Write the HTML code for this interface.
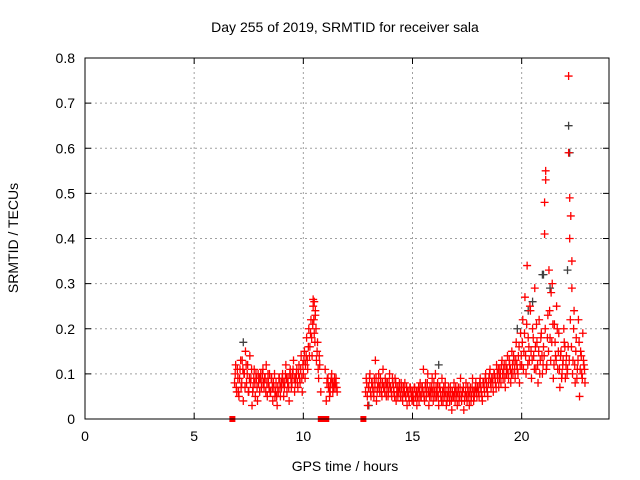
<!DOCTYPE html>
<html><head><meta charset="utf-8"><style>
html,body{margin:0;padding:0;background:#fff;}
svg{display:block;font-family:"Liberation Sans",sans-serif;}
</style></head><body>
<svg id="chart" width="640" height="480" viewBox="0 0 640 480">
<rect x="0" y="0" width="640" height="480" fill="#fff"/>
<text x="345" y="32" font-size="14" text-anchor="middle" fill="#000">Day 255 of 2019, SRMTID for receiver sala</text>
<text x="345" y="471" font-size="14" text-anchor="middle" fill="#000">GPS time / hours</text>
<text transform="translate(18,238) rotate(-90)" font-size="14" text-anchor="middle" fill="#000">SRMTID / TECUs</text>
<g id="grid"></g>
<g id="ticks"></g>
<g id="marks"></g>
<rect x="85" y="58" width="524" height="361" fill="none" stroke="#000" stroke-width="1"/>
</svg>
<script>
const xTicks = [0,5,10,15,20];
const yTicks = [0,0.1,0.2,0.3,0.4,0.5,0.6,0.7,0.8];
const yTickLabels = ["0","0.1","0.2","0.3","0.4","0.5","0.6","0.7","0.8"];
const times = [6.85,6.9,6.95,7.0,7.05,7.1,7.15,7.2,7.25,7.3,7.35,7.4,7.45,7.5,7.55,7.6,7.65,7.7,7.75,7.8,7.85,7.9,7.95,
8.0,8.05,8.1,8.15,8.2,8.25,8.3,8.35,8.4,8.45,8.5,8.55,8.6,8.65,8.7,8.75,8.8,8.85,8.9,8.95,
9.0,9.05,9.1,9.15,9.2,9.25,9.3,9.35,9.4,9.45,9.5,9.55,9.6,9.65,9.7,9.75,9.8,9.85,9.9,9.95,
10.0,10.05,10.1,10.15,10.2,10.25,10.3,10.35,10.4,10.45,10.5,10.55,10.6,10.65,10.7,10.75,10.8,10.5,10.45,10.55,
11.1,11.15,11.2,11.25,11.3,11.35,11.4,11.45,11.5,11.55,11.0,11.05,
12.85,12.9,12.95,13.0,13.05,13.1,13.15,13.2,13.25,13.3,13.35,13.4,13.45,13.5,13.55,13.6,13.65,13.7,13.75,13.8,13.85,13.9,13.95,14.0,14.05,14.1,14.15,14.2,14.25,14.3,14.35,14.4,14.45,14.5,14.55,14.6,14.65,14.7,14.75,14.8,14.85,14.9,14.95,
15.0,15.05,15.1,15.15,15.2,15.25,15.3,15.35,15.4,15.45,15.5,15.55,15.6,15.65,15.7,15.75,15.8,15.85,15.9,15.95,16.0,16.05,16.1,16.15,16.2,16.25,16.3,16.35,16.4,16.45,16.5,16.55,16.6,16.65,16.7,16.75,16.8,16.85,16.9,16.95,17.0,17.05,17.1,17.15,17.2,17.25,17.3,17.35,17.4,17.45,17.5,17.55,17.6,17.65,17.7,17.75,17.8,17.85,17.9,17.95,
18.0,18.05,18.1,18.15,18.2,18.25,18.3,18.35,18.4,18.45,18.5,18.55,18.6,18.65,18.7,18.75,18.8,18.85,18.9,18.95,19.0,19.05,19.1,19.15,19.2,19.25,19.3,19.35,19.4,19.45,19.5,19.55,19.6,19.65,19.7,19.75,19.8,19.85,19.9,19.95,
20.0,20.05,20.1,20.15,20.2,20.25,20.3,20.35,20.4,20.45,20.5,20.55,20.6,20.65,20.7,20.75,20.8,20.85,20.9,20.95,
21.0,21.05,21.05,21.1,21.1,21.15,21.2,21.25,21.3,21.35,21.4,21.45,21.5,21.55,21.6,21.65,21.7,21.75,21.8,21.85,21.9,21.95,
22.0,22.05,22.1,22.15,22.15,22.2,22.2,22.25,22.3,22.3,22.35,22.4,22.45,22.5,22.55,22.6,22.65,22.7,22.75,22.8,22.85,22.9];
const srmtid = [.08,.12,.06,.09,.05,.11,.07,.13,.04,.10,.15,.08,.12,.06,.14,.09,.03,.07,.11,.05,.09,.04,.08,
.06,.10,.08,.11,.07,.09,.12,.05,.08,.10,.06,.09,.04,.07,.05,.08,.03,.06,.09,.05,
.07,.10,.05,.08,.12,.06,.09,.04,.11,.07,.10,.13,.06,.09,.11,.07,.12,.08,.14,.06,
.10,.15,.12,.18,.11,.20,.16,.22,.14,.25,.19,.24,.13,.17,.09,.12,.06,.26,.265,.23,
.09,.07,.05,.08,.10,.06,.08,.07,.09,.06,.11,.04,
.06,.08,.03,.07,.10,.05,.08,.06,.09,.13,.04,.07,.10,.06,.08,.05,.11,.07,.09,.05,.08,.06,.10,.07,.05,.08,.06,.09,.04,.07,.06,.08,.05,.07,.04,.06,.08,.05,.03,.06,.04,.07,.05,
.06,.04,.07,.05,.03,.06,.04,.08,.05,.07,.11,.04,.08,.06,.10,.03,.07,.05,.09,.04,.06,.10,.05,.08,.03,.07,.05,.09,.04,.06,.08,.03,.05,.07,.04,.06,.02,.05,.08,.04,.06,.03,.07,.05,.09,.04,.06,.02,.05,.08,.04,.06,.03,.07,.05,.09,.04,.06,.08,.05,
.07,.05,.09,.06,.04,.08,.06,.10,.07,.05,.09,.11,.07,.09,.06,.10,.08,.12,.09,.07,.11,.08,.13,.09,.12,.07,.10,.14,.09,.12,.08,.15,.10,.13,.09,.17,.11,.14,.08,.19,
.12,.22,.15,.27,.10,.34,.18,.13,.24,.09,.20,.14,.29,.11,.17,.08,.22,.13,.19,.10,
.16,.41,.48,.53,.55,.12,.23,.33,.18,.28,.30,.09,.21,.14,.25,.11,.19,.07,.15,.10,.13,.17,
.09,.14,.11,.76,.59,.49,.40,.45,.35,.29,.13,.24,.08,.18,.11,.22,.05,.15,.10,.19,.12,.08];
const times2 = [6.88,6.93,6.98,7.03,7.08,7.13,7.18,7.23,7.28,7.33,7.38,7.43,7.48,7.53,7.58,7.63,7.68,7.73,7.78,7.83,7.88,7.93,7.98,
8.03,8.08,8.13,8.18,8.23,8.28,8.33,8.38,8.43,8.48,8.53,8.58,8.63,8.68,8.73,8.78,8.83,8.88,8.93,8.98,
9.03,9.08,9.13,9.18,9.23,9.28,9.33,9.38,9.43,9.48,9.53,9.58,9.63,9.68,9.73,9.78,9.83,9.88,9.93,9.98,
10.03,10.08,10.13,10.18,10.23,10.28,10.33,10.38,10.43,10.48,10.53,10.58,10.63,10.68,10.73,
11.08,11.13,11.18,11.23,11.28,11.33,11.38,11.43,11.48,11.53,
12.88,12.93,12.98,13.03,13.08,13.13,13.18,13.23,13.28,13.33,13.38,13.43,13.48,13.53,13.58,13.63,13.68,13.73,13.78,13.83,13.88,13.93,13.98,14.03,14.08,14.13,14.18,14.23,14.28,14.33,14.38,14.43,14.48,14.53,14.58,14.63,14.68,14.73,14.78,14.83,14.88,14.93,14.98,
15.03,15.08,15.13,15.18,15.23,15.28,15.33,15.38,15.43,15.48,15.53,15.58,15.63,15.68,15.73,15.78,15.83,15.88,15.93,15.98,16.03,16.08,16.13,16.18,16.23,16.28,16.33,16.38,16.43,16.48,16.53,16.58,16.63,16.68,16.73,16.78,16.83,16.88,16.93,16.98,
17.03,17.08,17.13,17.18,17.23,17.28,17.33,17.38,17.43,17.48,17.53,17.58,17.63,17.68,17.73,17.78,17.83,17.88,17.93,17.98,
18.03,18.08,18.13,18.18,18.23,18.28,18.33,18.38,18.43,18.48,18.53,18.58,18.63,18.68,18.73,18.78,18.83,18.88,18.93,18.98,19.03,19.08,19.13,19.18,19.23,19.28,19.33,19.38,19.43,19.48,19.53,19.58,19.63,19.68,19.73,19.78,19.83,19.88,19.93,19.98,
20.03,20.08,20.13,20.18,20.23,20.28,20.33,20.38,20.43,20.48,20.53,20.58,20.63,20.68,20.73,20.78,20.83,20.88,20.93,20.98,
21.03,21.08,21.13,21.18,21.23,21.28,21.33,21.38,21.43,21.48,21.53,21.58,21.63,21.68,21.73,21.78,21.83,21.88,21.93,21.98,
22.03,22.08,22.13,22.18,22.23,22.28,22.33,22.38,22.43,22.48,22.53,22.58,22.63,22.68,22.73,22.78,22.83,22.88];
const srmtid2 = [.10,.07,.11,.06,.09,.13,.08,.11,.10,.07,.12,.10,.06,.09,.08,.11,.06,.09,.08,.10,.07,.10,.09,
.09,.07,.10,.08,.09,.06,.08,.10,.07,.06,.09,.07,.08,.10,.06,.05,.07,.09,.07,.08,
.09,.08,.07,.10,.09,.08,.07,.10,.09,.08,.11,.09,.08,.10,.08,.10,.09,.11,.09,.12,
.13,.09,.14,.13,.16,.14,.19,.18,.21,.22,.17,.20,.15,.11,.14,
.08,.09,.07,.06,.09,.08,.07,.09,.08,.07,
.09,.05,.07,.09,.06,.08,.07,.05,.07,.09,.06,.08,.07,.09,.06,.08,.07,.06,.08,.07,.05,.08,.07,.06,.09,.07,.05,.08,.06,.05,.07,.06,.08,.05,.07,.06,.05,.07,.06,.05,.07,.06,.04,
.05,.07,.05,.06,.05,.07,.06,.05,.07,.06,.05,.07,.05,.08,.06,.05,.06,.07,.06,.08,.05,.07,.06,.05,.07,.06,.04,.06,.07,.05,.06,.04,.06,.05,.07,.04,.06,.05,.06,.07,
.05,.06,.04,.07,.05,.06,.07,.04,.06,.05,.07,.05,.06,.04,.07,.06,.05,.07,.06,.07,
.06,.08,.07,.05,.08,.07,.09,.08,.06,.08,.10,.08,.09,.08,.10,.09,.07,.10,.11,.09,.10,.12,.10,.11,.09,.12,.11,.10,.13,.11,.10,.12,.14,.11,.13,.12,.10,.16,.12,.14,
.17,.11,.19,.14,.21,.12,.16,.25,.15,.13,.18,.11,.16,.21,.12,.15,.10,.18,.14,.12,
.14,.20,.11,.18,.15,.24,.13,.17,.21,.12,.17,.13,.20,.15,.11,.14,.09,.12,.20,.16,
.12,.10,.16,.13,.22,.16,.10,.20,.12,.15,.09,.13,.17,.11,.14,.09,.13,.11];
const grayTimes = [7.25,22.15,20.95,21.3,19.8,13.0,22.2,20.3,16.2,21.0,22.1,20.5];
const grayValues = [.17,.65,.32,.29,.20,.03,.59,.24,.12,.32,.33,.26];
const zeroTimes = [6.75,10.8,10.9,11.0,11.05,12.75];

const X0=85,X1=609,Y0=419,Y1=58;
const xScale = t => X0 + (t/24)*(X1-X0);
const yScale = v => Y0 - (v/0.8)*(Y0-Y1);
const NS="http://www.w3.org/2000/svg";
const grid=document.getElementById('grid'), ticks=document.getElementById('ticks'), marks=document.getElementById('marks');
function mk(tag,attrs,parent){const e=document.createElementNS(NS,tag);for(const k in attrs)e.setAttribute(k,attrs[k]);parent.appendChild(e);return e;}

yTicks.forEach((v,i)=>{
  const y=yScale(v);
  if(i>0&&i<yTicks.length-1){const g=mk('line',{x1:X0,x2:X1,y1:y,y2:y,stroke:'#a0a0a0','stroke-dasharray':'2,3'},grid);
  
  }
  mk('line',{x1:X0,x2:X0+6,y1:y,y2:y,stroke:'#000'},ticks);
  mk('line',{x1:X1,x2:X1-6,y1:y,y2:y,stroke:'#000'},ticks);
  const t=mk('text',{x:X0-10,y:y+5,'font-size':14,'text-anchor':'end'},ticks);
  t.textContent=yTickLabels[i];
  
  
});
xTicks.forEach(v=>{
  const x=xScale(v);
  if(v>0){const g=mk('line',{x1:x,x2:x,y1:Y0,y2:Y1,stroke:'#a0a0a0','stroke-dasharray':'2,3'},grid);
  
  }
  mk('line',{x1:x,x2:x,y1:Y0,y2:Y0-6,stroke:'#000'},ticks);
  mk('line',{x1:x,x2:x,y1:Y1,y2:Y1+6,stroke:'#000'},ticks);
  const t=mk('text',{x:x,y:Y0+22,'font-size':14,'text-anchor':'middle'},ticks);
  t.textContent=String(v);
  
  
});
function plus(t,v,color){
  const x=xScale(t),y=yScale(v);
  return mk('path',{d:`M${x-4},${y}H${x+4}M${x},${y-4}V${y+4}`,stroke:color,'stroke-width':1.3,fill:'none'},marks);
}
grayTimes.forEach((t,i)=>{
  const p=plus(t,grayValues[i],'#404040');
  
  
});
times.forEach((t,i)=>{
  const p=plus(t,srmtid[i],'#ff0000');
  
  
});
times2.forEach((t,i)=>{
  const p=plus(t,srmtid2[i],'#ff0000');
  
  
});
zeroTimes.forEach(t=>{
  const r=mk('rect',{x:xScale(t)-3,y:yScale(0)-3,width:6,height:6,fill:'#ff0000'},marks);
  
  
});
</script>
</body></html>
